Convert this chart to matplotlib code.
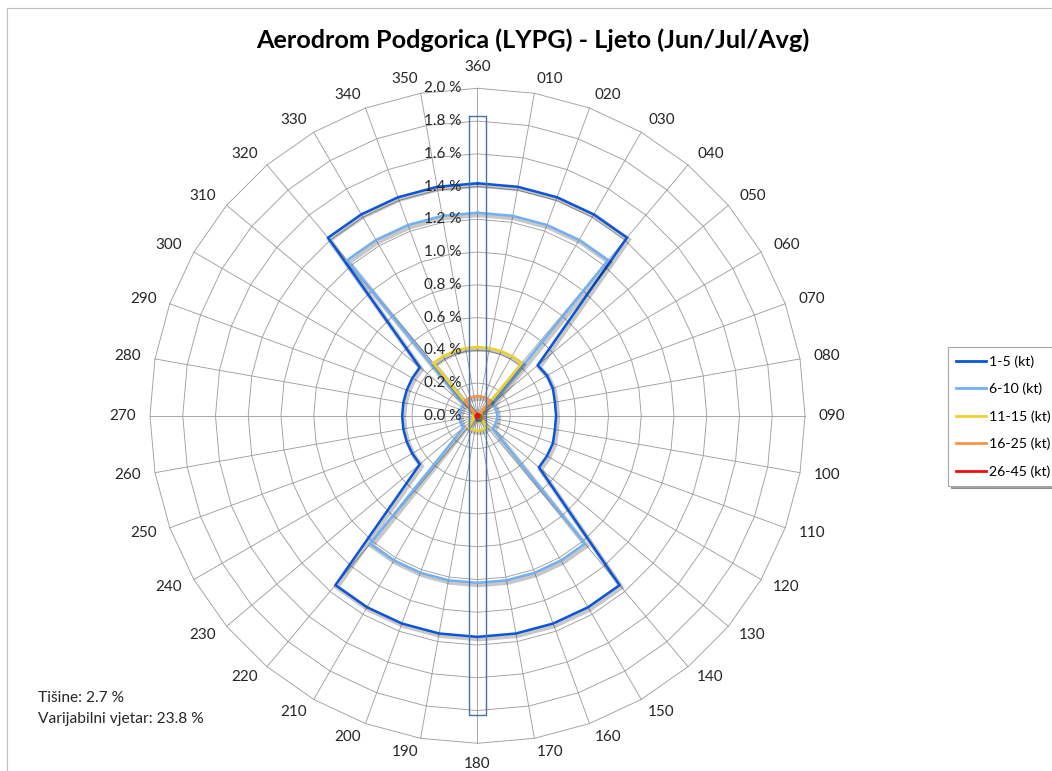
import numpy as np
import matplotlib
matplotlib.use('Agg')
import matplotlib.pyplot as plt
import matplotlib.patheffects as pe
from matplotlib.patches import Rectangle
from matplotlib.transforms import offset_copy

plt.rcParams['font.family'] = ['Lato', 'DejaVu Sans']

# smjerovi vjetra (od sjevera, u smjeru kazaljke)
directions = ['360', '010', '020', '030', '040', '050', '060', '070', '080',
              '090', '100', '110', '120', '130', '140', '150', '160', '170',
              '180', '190', '200', '210', '220', '230', '240', '250', '260',
              '270', '280', '290', '300', '310', '320', '330', '340', '350']

speed_classes = ['1-5 (kt)', '6-10 (kt)', '11-15 (kt)', '16-25 (kt)', '26-45 (kt)']

# ucestalost u % po smjeru
s_1_5 = [1.42, 1.42, 1.42, 1.42, 1.42, 0.48, 0.49, 0.49, 0.48,
         0.48, 0.48, 0.49, 0.49, 0.49, 1.35, 1.35, 1.35, 1.35,
         1.35, 1.35, 1.35, 1.35, 1.35, 0.46, 0.46, 0.46, 0.46,
         0.46, 0.46, 0.46, 0.46, 0.46, 1.42, 1.42, 1.42, 1.42]
s_6_10 = [1.24, 1.24, 1.24, 1.24, 1.24, 0.12, 0.12, 0.12, 0.12,
          0.12, 0.12, 0.12, 0.12, 0.12, 1.02, 1.02, 1.02, 1.02,
          1.02, 1.02, 1.02, 1.02, 1.02, 0.11, 0.11, 0.11, 0.11,
          0.11, 0.11, 0.11, 0.11, 0.11, 1.24, 1.24, 1.24, 1.24]
s_11_15 = [0.42, 0.42, 0.42, 0.42, 0.42, 0.03, 0.03, 0.03, 0.03,
           0.03, 0.03, 0.03, 0.03, 0.03, 0.09, 0.09, 0.09, 0.09,
           0.09, 0.09, 0.09, 0.09, 0.09, 0.03, 0.03, 0.03, 0.03,
           0.03, 0.03, 0.03, 0.03, 0.03, 0.42, 0.42, 0.42, 0.42]
s_16_25 = [0.12, 0.12, 0.12, 0.12, 0.12, 0.01, 0.01, 0.01, 0.01,
           0.01, 0.01, 0.01, 0.01, 0.01, 0.01, 0.01, 0.01, 0.01,
           0.01, 0.01, 0.01, 0.01, 0.01, 0.01, 0.01, 0.01, 0.01,
           0.01, 0.01, 0.01, 0.01, 0.01, 0.12, 0.12, 0.12, 0.12]
s_26_45 = [0.01] * 36

ring_levels = [0.2, 0.4, 0.6, 0.8, 1.0, 1.2, 1.4, 1.6, 1.8, 2.0]
ring_labels = ['0.0 %', '0.2 %', '0.4 %', '0.6 %', '0.8 %', '1.0 %',
               '1.2 %', '1.4 %', '1.6 %', '1.8 %', '2.0 %']

# pista (pravac 18/36)
runway_half_len = 1.83
runway_half_w = 0.049

calm_text = 'Tišine: 2.7 %'
variable_text = 'Varijabilni vjetar: 23.8 %'

colors = ['#0b55d9', '#72b0f4', '#ecd12c', '#f7944a', '#f20d0d']
grid_color = '#a0a0a0'
text_color = '#262626'

W, H = 1052, 771
fig = plt.figure(figsize=(W / 100, H / 100), dpi=100)

# okvir grafikona
fig.patches.append(Rectangle((7 / W, -0.1), 1.2, 1 - 8 / H + 0.1,
                             transform=fig.transFigure, fill=False,
                             edgecolor='#bfbfbf', lw=0.8))

cx, cy, R = 477.5, 415.8, 327.5
ax = fig.add_axes([(cx - R) / W, (H - cy - R) / H, 2 * R / W, 2 * R / H],
                  projection='polar')
ax.set_theta_zero_location('N')
ax.set_theta_direction(-1)
ax.set_ylim(0, 2.0)
ax.grid(False)
ax.set_xticks([])
ax.set_yticks([])
ax.spines['polar'].set_visible(False)
ax.patch.set_alpha(0)

deg = np.array([int(d) % 360 for d in directions])
theta = np.deg2rad(deg)
theta_c = np.append(theta, theta[0])
r_max = ring_levels[-1]

# mreza (poligoni + zrake)
for r in ring_levels:
    ax.plot(theta_c, [r] * len(theta_c), color=grid_color, lw=0.65,
            clip_on=False, zorder=1)
for t in theta:
    ax.plot([t, t], [0, r_max], color=grid_color, lw=0.65,
            clip_on=False, zorder=1)

# serije
series = [s_1_5, s_6_10, s_11_15, s_16_25, s_26_45]
for vals, lab, col in zip(series, speed_classes, colors):
    v = np.append(vals, vals[0])
    ax.plot(theta_c, v, color=col, lw=1.8, label=lab, zorder=3,
            solid_joinstyle='miter',
            path_effects=[pe.SimpleLineShadow(offset=(1.2, -1.5),
                                              shadow_color='k', alpha=0.22,
                                              linewidth=3.5),
                          pe.Normal()])

# pista
rx = np.array([-runway_half_w, runway_half_w, runway_half_w,
               -runway_half_w, -runway_half_w])
ry = np.array([runway_half_len, runway_half_len, -runway_half_len,
               -runway_half_len, runway_half_len])
ax.plot(np.arctan2(rx, ry), np.hypot(rx, ry), color='#4575a5', lw=1.0,
        zorder=4)

# oznake smjerova (kao u Excelu: uz kraj zrake)
gap = 14
for t, a, d in zip(theta, deg, directions):
    tr = offset_copy(ax.transData, fig=fig, x=gap * np.sin(t),
                     y=gap * np.cos(t), units='dots')
    if a == 0:
        ha, va = 'center', 'bottom'
    elif a == 180:
        ha, va = 'center', 'top'
    elif a < 180:
        ha, va = 'left', 'center'
    else:
        ha, va = 'right', 'center'
    ax.text(t, r_max, d, transform=tr, ha=ha, va=va, fontsize=11,
            color=text_color)

# oznake prstenova
lab_tr = offset_copy(ax.transData, fig=fig, x=-16, y=0, units='dots')
for r, lab in zip([0.0] + ring_levels, ring_labels):
    ax.text(0, r, lab, transform=lab_tr, ha='right', va='center',
            fontsize=11, color=text_color, zorder=5)

fig.text(533 / W, 1 - 40 / H, 'Aerodrom Podgorica (LYPG) - Ljeto (Jun/Jul/Avg)',
         ha='center', va='center', fontsize=18.2, fontweight='bold',
         color='black')

fig.text(38 / W, 1 - 698 / H, calm_text, ha='left', va='center',
         fontsize=11.2, color=text_color)
fig.text(38 / W, 1 - 719 / H, variable_text, ha='left', va='center',
         fontsize=11.2, color=text_color)

leg = fig.legend(loc='upper left', bbox_to_anchor=(948.3 / W, 1 - 347.3 / H),
                 borderaxespad=0, frameon=True, fancybox=False, shadow=True,
                 fontsize=10.2, handlelength=2.1, handletextpad=0.2,
                 labelspacing=1.06, borderpad=0.55)
leg.get_frame().set_edgecolor('#a6a6a6')
leg.get_frame().set_linewidth(0.8)
for h in leg.get_lines():
    h.set_path_effects([])
    h.set_linewidth(2.0)

fig.savefig('out.png', dpi=100)
